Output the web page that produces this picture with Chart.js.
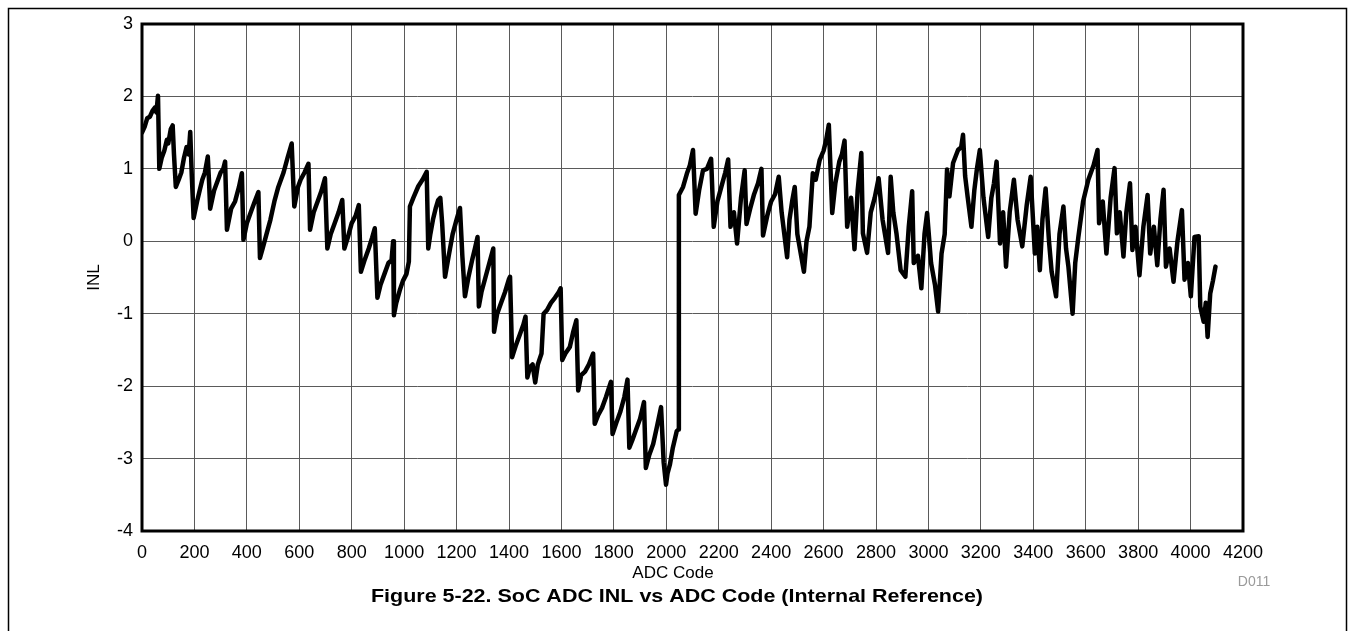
<!DOCTYPE html>
<html lang="en">
<head>
    <meta charset="UTF-8">
    <title>SoC ADC INL vs ADC Code</title>
    <script src="https://cdn.jsdelivr.net/npm/chart.js"></script>
    <style>
        body {
            margin: 0;
            background-color: #fff;
        }

        .chart-box {
            width: 1353px;
            height: 631px;
        }
    </style>
</head>
<body>
    <div class="chart-box">
        <canvas id="inlChart" width="1353" height="631"></canvas>
    </div>
    <script>
        // INL curve, sampled at the turning points of the sawtooth
        const adcCode = [
            0, 10, 20, 30, 40, 50, 55, 61, 66, 75, 85, 95, 100, 110, 117, 122, 129, 140, 150, 160,
            170, 178, 184, 190, 197, 210, 220, 230, 240, 251, 256, 260, 275, 290, 300, 310, 317, 324, 340, 355,
            370, 381, 387, 400, 415, 430, 444, 450, 460, 475, 490, 505, 520, 540, 555, 571, 576, 581, 595, 605,
            620, 635, 641, 655, 670, 685, 698, 707, 720, 735, 750, 764, 772, 785, 800, 815, 827, 835, 850, 865,
            878, 888, 898, 910, 925, 940, 952, 958, 961, 970, 983, 995, 1009, 1018, 1022, 1035, 1054, 1070, 1086, 1092,
            1100, 1110, 1120, 1130, 1138, 1145, 1156, 1170, 1185, 1200, 1213, 1222, 1232, 1245, 1260, 1270, 1280, 1285, 1295, 1310,
            1325, 1340, 1343, 1355, 1370, 1385, 1400, 1404, 1412, 1425, 1440, 1455, 1463, 1470, 1480, 1490, 1500, 1510, 1524, 1532,
            1545, 1560, 1575, 1590, 1597, 1603, 1615, 1632, 1645, 1657, 1664, 1675, 1690, 1705, 1721, 1727, 1740, 1755, 1770, 1789,
            1795, 1810, 1825, 1840, 1852, 1859, 1870, 1885, 1900, 1915, 1922, 1935, 1950, 1965, 1980, 1990, 1999, 2005, 2014, 2025,
            2040, 2046, 2048, 2064, 2080, 2090, 2102, 2112, 2125, 2140, 2155, 2171, 2181, 2195, 2210, 2225, 2236, 2245, 2258, 2270,
            2285, 2299, 2306, 2320, 2335, 2350, 2363, 2369, 2385, 2400, 2415, 2429, 2440, 2461, 2470, 2480, 2490, 2500, 2525, 2535,
            2546, 2559, 2570, 2585, 2600, 2610, 2620, 2633, 2645, 2660, 2670, 2680, 2690, 2705, 2718, 2730, 2744, 2750, 2766, 2780,
            2795, 2810, 2825, 2846, 2856, 2866, 2878, 2894, 2912, 2925, 2938, 2944, 2960, 2973, 2985, 2995, 3010, 3025, 3037, 3050,
            3062, 3071, 3080, 3094, 3113, 3125, 3132, 3140, 3150, 3164, 3175, 3185, 3196, 3210, 3228, 3240, 3250, 3260, 3273, 3285,
            3296, 3310, 3326, 3340, 3358, 3375, 3390, 3406, 3415, 3425, 3435, 3447, 3460, 3470, 3487, 3500, 3515, 3525, 3534, 3550,
            3560, 3572, 3590, 3610, 3630, 3645, 3651, 3665, 3679, 3695, 3710, 3719, 3730, 3744, 3755, 3769, 3778, 3790, 3805, 3820,
            3836, 3846, 3860, 3873, 3885, 3897, 3906, 3920, 3935, 3950, 3967, 3977, 3990, 4001, 4015, 4031, 4037, 4050, 4058, 4065,
            4075, 4085, 4095
        ];

        const inlLsb = [
            1.50, 1.58, 1.70, 1.72, 1.80, 1.85, 1.78, 2.01, 1.00, 1.15, 1.25, 1.40, 1.35, 1.55, 1.60, 1.20, 0.75, 0.85, 0.95, 1.15,
            1.30, 1.20, 1.51, 0.90, 0.32, 0.55, 0.70, 0.85, 0.95, 1.17, 0.80, 0.45, 0.70, 0.85, 0.95, 1.00, 1.10, 0.16, 0.45, 0.55,
            0.75, 0.94, 0.02, 0.25, 0.40, 0.55, 0.68, -0.23, -0.10, 0.10, 0.30, 0.55, 0.75, 0.95, 1.15, 1.35, 0.90, 0.48, 0.75, 0.85,
            0.95, 1.07, 0.16, 0.40, 0.55, 0.70, 0.87, -0.10, 0.10, 0.25, 0.40, 0.57, -0.10, 0.05, 0.25, 0.35, 0.50, -0.42, -0.25, -0.10,
            0.05, 0.18, -0.78, -0.60, -0.45, -0.30, -0.26, 0.00, -1.02, -0.85, -0.68, -0.55, -0.45, -0.28, 0.48, 0.60, 0.76, 0.85, 0.96, -0.10,
            0.10, 0.30, 0.45, 0.57, 0.60, 0.25, -0.49, -0.20, 0.10, 0.30, 0.46, -0.20, -0.76, -0.50, -0.25, -0.10, 0.06, -0.90, -0.70, -0.50,
            -0.30, -0.10, -1.25, -1.00, -0.85, -0.70, -0.52, -0.49, -1.60, -1.45, -1.30, -1.15, -1.04, -1.88, -1.74, -1.70, -1.95, -1.70, -1.55, -1.00,
            -0.95, -0.85, -0.78, -0.70, -0.65, -1.64, -1.55, -1.46, -1.25, -1.09, -2.06, -1.85, -1.80, -1.70, -1.55, -2.52, -2.40, -2.30, -2.15, -1.94,
            -2.66, -2.50, -2.35, -2.15, -1.91, -2.85, -2.75, -2.60, -2.45, -2.22, -3.13, -2.95, -2.80, -2.55, -2.29, -3.05, -3.36, -3.20, -3.08, -2.85,
            -2.62, -2.60, 0.64, 0.75, 0.95, 1.05, 1.26, 0.38, 0.70, 0.98, 1.00, 1.14, 0.20, 0.55, 0.75, 0.95, 1.13, 0.20, 0.40, -0.03,
            0.60, 0.98, 0.24, 0.45, 0.65, 0.80, 1.00, 0.08, 0.35, 0.55, 0.65, 0.89, 0.40, -0.22, 0.30, 0.55, 0.75, 0.10, -0.42, 0.00,
            0.20, 0.94, 0.85, 1.12, 1.25, 1.40, 1.61, 0.39, 0.80, 1.10, 1.20, 1.39, 0.20, 0.60, -0.11, 0.70, 1.22, 0.11, -0.16, 0.40,
            0.60, 0.87, 0.30, -0.16, 0.89, 0.40, 0.11, -0.40, -0.49, 0.20, 0.69, -0.30, -0.20, -0.65, 0.10, 0.39, -0.30, -0.60, -0.97, -0.17,
            0.10, 0.99, 0.62, 1.08, 1.26, 1.30, 1.47, 0.90, 0.60, 0.20, 0.70, 1.00, 1.26, 0.60, 0.06, 0.60, 0.80, 1.10, -0.03, 0.40,
            -0.35, 0.40, 0.85, 0.30, -0.07, 0.50, 0.89, -0.17, 0.20, -0.40, 0.30, 0.73, 0.00, -0.42, -0.76, 0.10, 0.48, -0.10, -0.35, -1.00,
            -0.30, 0.06, 0.55, 0.85, 1.05, 1.26, 0.25, 0.55, -0.17, 0.60, 1.01, 0.11, 0.40, -0.21, 0.40, 0.80, -0.12, 0.20, -0.47, 0.20,
            0.64, -0.17, 0.20, -0.33, 0.30, 0.71, -0.35, -0.10, -0.56, 0.00, 0.43, -0.53, -0.30, -0.76, 0.06, 0.07, -0.90, -1.11, -0.85, -1.32,
            -0.72, -0.55, -0.35
        ];

        const xRange = [0, 4200];
        const yRange = [-4, 3];

        const FONT = "'Liberation Sans', Arial, sans-serif";

        // plot frame, page border and captions
        const framePlugin = {
            id: 'framePlugin',
            afterDraw(chart) {
                const { ctx, chartArea: a } = chart;
                ctx.save();
                ctx.strokeStyle = '#000';
                ctx.lineWidth = 3;
                ctx.strokeRect(a.left, a.top, a.right - a.left, a.bottom - a.top);
                ctx.lineWidth = 1.5;
                ctx.strokeRect(8.5, 8.5, 1338, 640);

                ctx.fillStyle = '#000';
                ctx.textAlign = 'center';
                ctx.textBaseline = 'middle';
                ctx.font = '17px ' + FONT;
                ctx.fillText('ADC Code', 673, 573);

                ctx.fillStyle = '#9a9a9a';
                ctx.font = '14px ' + FONT;
                ctx.fillText('D011', 1254, 582);

                ctx.fillStyle = '#000';
                ctx.font = 'bold 19px ' + FONT;
                ctx.translate(677, 597);
                ctx.scale(1.13, 1);
                ctx.fillText('Figure 5-22. SoC ADC INL vs ADC Code (Internal Reference)', 0, 0);
                ctx.restore();
            }
        };

        const ctx = document.getElementById('inlChart').getContext('2d');
        const inlChart = new Chart(ctx, {
            type: 'line',
            data: {
                datasets: [{
                    label: 'INL',
                    data: adcCode.map((c, i) => ({ x: c, y: inlLsb[i] })),
                    borderColor: '#000',
                    borderWidth: 4.5,
                    borderJoinStyle: 'round',
                    borderCapStyle: 'round',
                    pointRadius: 0,
                    tension: 0,
                    fill: false
                }]
            },
            options: {
                responsive: false,
                animation: false,
                layout: {
                    padding: { left: 0, right: 110, top: 24, bottom: 0 }
                },
                plugins: {
                    legend: { display: false },
                    tooltip: { enabled: false }
                },
                scales: {
                    x: {
                        type: 'linear',
                        min: xRange[0],
                        max: xRange[1],
                        afterFit(scale) { scale.height = 100; },
                        ticks: {
                            stepSize: 200,
                            color: '#000',
                            padding: 11,
                            maxRotation: 0,
                            autoSkip: false,
                            callback: (v) => String(v),
                            font: { family: FONT, size: 18 }
                        },
                        grid: { color: '#5a5a5a', lineWidth: 1, drawTicks: false },
                        border: { display: false }
                    },
                    y: {
                        min: yRange[0],
                        max: yRange[1],
                        afterFit(scale) { scale.width = 142; },
                        ticks: {
                            stepSize: 1,
                            color: '#000',
                            padding: 9,
                            callback: (v) => String(v),
                            font: { family: FONT, size: 18 }
                        },
                        title: {
                            display: true,
                            text: 'INL',
                            color: '#000',
                            padding: { top: 84, bottom: 0 },
                            font: { family: FONT, size: 17 }
                        },
                        grid: { color: '#5a5a5a', lineWidth: 1, drawTicks: false },
                        border: { display: false }
                    }
                }
            },
            plugins: [framePlugin]
        });
    </script>
</body>
</html>
